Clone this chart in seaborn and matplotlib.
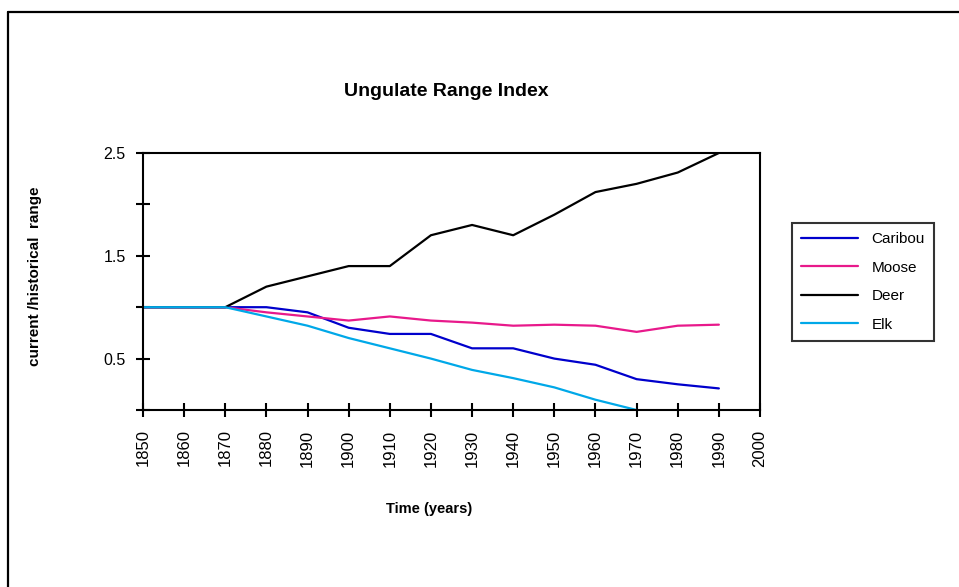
import numpy as np
import pandas as pd
import matplotlib
matplotlib.use("Agg")
import matplotlib.pyplot as plt
from matplotlib.lines import Line2D
import seaborn as sns

years = list(range(1850, 2000, 10))
caribou = [1.0, 1.0, 1.0, 1.0, 0.95, 0.80, 0.74, 0.74, 0.60, 0.60, 0.50, 0.44, 0.30, 0.25, 0.21]
moose = [1.0, 1.0, 1.0, 0.95, 0.91, 0.87, 0.91, 0.87, 0.85, 0.82, 0.83, 0.82, 0.76, 0.82, 0.83]
deer = [1.0, 1.0, 1.0, 1.20, 1.30, 1.40, 1.40, 1.70, 1.80, 1.70, 1.90, 2.12, 2.20, 2.31, 2.50]
elk = [1.0, 1.0, 1.0, 0.91, 0.82, 0.70, 0.60, 0.50, 0.39, 0.31, 0.22, 0.10, 0.0, np.nan, np.nan]
species = ["Caribou", "Moose", "Deer", "Elk"]
colors = ["#0000CC", "#E8198B", "#000000", "#00A8E8"]
xticks = list(range(1850, 2001, 10))
yticks = [0, 0.5, 1.0, 1.5, 2.0, 2.5]
ytick_labels = ["", "0.5", "", "1.5", "", "2.5"]

df = pd.concat([
    pd.DataFrame({"year": years, "value": vals, "species": name})
    for name, vals in zip(species, [caribou, moose, deer, elk])
])
df = df.dropna()

sns.set_style("white")
plt.rcParams["font.family"] = ["Liberation Sans", "DejaVu Sans"]
plt.rcParams.update({"text.color": "black", "axes.labelcolor": "black",
                     "xtick.color": "black", "ytick.color": "black"})

fig = plt.figure(figsize=(9.59, 5.87), dpi=100)
ax = fig.add_axes([143 / 959, (587 - 410) / 587, 617 / 959, 257 / 587])

sns.lineplot(data=df, x="year", y="value", hue="species", hue_order=species,
             palette=colors, linewidth=1.6, ax=ax, legend=True)

ax.set_xlim(1850, 2000)
ax.set_ylim(0, 2.5)
ax.set_xticks(xticks)
ax.set_xticklabels([str(t) for t in xticks], rotation=90, fontsize=12)
ax.set_yticks(yticks)
ax.set_yticklabels(ytick_labels, fontsize=11.5)
ax.tick_params(axis="x", bottom=True, direction="inout", length=10, width=1.5,
               color="black", labelcolor="black", pad=9)
ax.tick_params(axis="y", left=True, direction="inout", length=10, width=1.5,
               color="black", labelcolor="black", pad=7.5)
for s in ax.spines.values():
    s.set_visible(True)
    s.set_color("black")
    s.set_linewidth(1.5)

ax.set_xlabel("Time (years)", fontsize=10.5, fontweight="bold", va="center", color="black")
ax.xaxis.set_label_coords((429 - 143) / 617, (410 - 509) / 257)
ax.set_ylabel("current /historical  range", fontsize=11, fontweight="bold", va="center",
              color="black")
ax.yaxis.set_label_coords((35 - 143) / 617, (410 - 276.5) / 257)

fig.text(446 / 959, (587 - 92) / 587, "Ungulate Range Index", ha="center", va="center",
         fontsize=14, fontweight="bold", color="black")

handles, labels = ax.get_legend_handles_labels()
leg = ax.legend(handles, labels, loc="upper left",
                bbox_to_anchor=(792 / 959, (587 - 223) / 587), bbox_transform=fig.transFigure,
                borderaxespad=0, frameon=True, fancybox=False, edgecolor="black",
                fontsize=11, handlelength=3.7, handletextpad=0.9, labelspacing=0.95,
                borderpad=0.6)
leg.get_frame().set_linewidth(1.5)
for t in leg.get_texts():
    t.set_color("black")
for lh in leg.get_lines():
    lh.set_linewidth(1.6)

fig.add_artist(Line2D([8 / 959, 1.0], [(587 - 12) / 587] * 2, color="black", lw=1.6,
                      transform=fig.transFigure))
fig.add_artist(Line2D([8 / 959] * 2, [0.0, (587 - 12) / 587], color="black", lw=1.6,
                      transform=fig.transFigure))

fig.savefig("out.png", dpi=100)
